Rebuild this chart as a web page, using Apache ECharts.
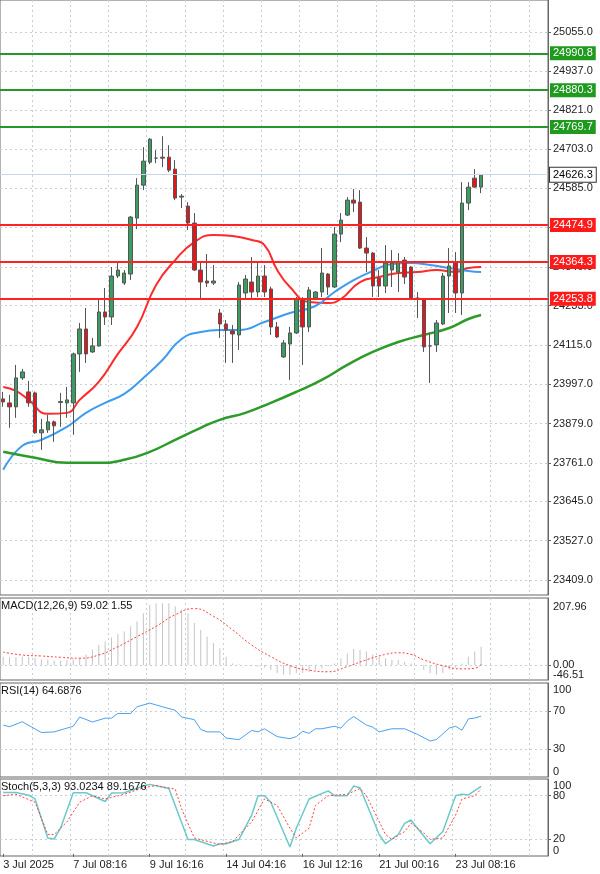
<!DOCTYPE html>
<html>
<head>
<meta charset="utf-8">
<script src="https://cdn.jsdelivr.net/npm/echarts@6/dist/echarts.min.js"></script>
<style>html,body{margin:0;padding:0;background:#fff}#chart{width:600px;height:874px}</style>
</head>
<body>
<div id="chart"></div>
<script>
// K线数据 [开, 收, 低, 高]
const candles = [
  [23953,23944,23929,23974],[23941,23929,23866,23965],[23929,24016,23896,24055],[24016,24034,24010,24043],
  [23974,23941,23929,24007],[23971,23851,23848,23975],[23851,23860,23800,23893],[23860,23884,23851,23905],
  [23884,23872,23824,23888],[23942,23945,23869,23971],[23941,23950,23896,23989],[23941,24088,23845,24092],
  [24088,24163,24034,24181],[24163,24088,24061,24226],[24094,24112,24091,24136],[24112,24214,24110,24250],
  [24214,24199,24175,24286],[24199,24322,24175,24349],[24322,24340,24316,24364],[24301,24331,24295,24340],
  [24328,24499,24310,24502],[24496,24595,24463,24616],[24595,24667,24580,24709],[24664,24733,24658,24736],
  [24676,24676,24661,24700],[24679,24676,24649,24742],[24679,24640,24634,24715],[24643,24556,24550,24670],
  [24559,24562,24526,24568],[24532,24481,24460,24544],[24481,24340,24337,24511],[24340,24304,24256,24364],
  [24307,24301,24289,24388],[24301,24307,24295,24355],[24211,24178,24136,24223],[24178,24160,24061,24190],
  [24157,24148,24061,24175],[24145,24295,24100,24304],[24271,24313,24256,24325],[24304,24274,24256,24379],
  [24274,24322,24259,24361],[24322,24274,24259,24355],[24283,24169,24145,24290],[24169,24139,24136,24184],
  [24079,24121,24076,24130],[24118,24151,24010,24169],[24151,24253,24148,24259],[24253,24169,24055,24259],
  [24169,24280,24154,24289],[24256,24274,24250,24277],[24274,24331,24259,24406],[24328,24289,24265,24331],
  [24289,24448,24286,24469],[24448,24490,24424,24511],[24505,24550,24502,24559],[24550,24541,24514,24583],
  [24544,24406,24403,24580],[24406,24391,24334,24439],[24391,24292,24259,24394],[24316,24292,24259,24340],
  [24292,24361,24271,24415],[24340,24361,24289,24400],[24334,24364,24274,24391],[24370,24319,24298,24379],
  [24349,24256,24253,24352],[24256,24253,24196,24274],[24253,24109,24094,24256],[24112,24112,24001,24151],
  [24115,24181,24094,24190],[24178,24322,24175,24331],[24322,24352,24211,24406],[24361,24271,24211,24394],
  [24271,24541,24205,24604],[24541,24589,24520,24604],[24616,24589,24586,24643],[24589,24625,24571,24628]
];
const slotCount = 86;
const dateTicks = {0:'3 Jul 2025',11:'7 Jul 08:16',23:'9 Jul 16:16',35:'14 Jul 04:16',47:'16 Jul 12:16',59:'21 Jul 00:16',71:'23 Jul 08:16'};

// 均线 [索引, 值]
const maRed = [[0,23989],[2,23977],[4,23950],[7,23908],[10,23911],[12,23950],[15,24004],[18,24088],[21,24169],[24,24295],[27,24370],[30,24424],[33,24445],[36,24442],[39,24430],[41,24415],[43,24340],[45,24289],[48,24244],[51,24241],[53,24253],[56,24304],[59,24319],[62,24331],[65,24334],[68,24340],[71,24334],[73,24346],[75,24349]];
const maBlue = [[0,23740],[3,23812],[6,23830],[10,23869],[13,23911],[16,23941],[19,23968],[22,24016],[25,24070],[28,24133],[31,24154],[34,24160],[37,24160],[41,24184],[45,24211],[49,24232],[52,24274],[55,24310],[58,24337],[61,24358],[64,24361],[67,24355],[70,24346],[73,24337],[75,24334]];
const maGreen = [[0,23794],[5,23776],[10,23761],[15,23761],[19,23770],[23,23794],[27,23830],[31,23866],[34,23890],[38,23911],[42,23941],[46,23974],[50,24010],[54,24055],[58,24094],[62,24124],[66,24145],[70,24166],[73,24193],[75,24205]];

const resistLevels = [24990.8, 24880.3, 24769.7];
const supportLevels = [24474.9, 24364.3, 24253.8];
const lastPrice = 24626.3;
const priceTicks = [25055,24937,24821,24703,24585,24467,24349,24233,24115,23997,23879,23761,23645,23527,23409];

const macdHist = [26,24,24,26,25,22,18,16,14,13,15,18,21,33,47,62,73,85,96,104,120,135,161,187,192,192,192,182,172,161,130,109,88,68,52,26,5,2,0,-3,-5,-8,-15,-25,-30,-30,-25,-25,-22,-15,-10,-5,5,20,36,50,47,42,33,26,21,16,16,10,5,0,-15,-25,-30,-25,-15,-8,5,26,42,57];
const macdSignal = [[0,40],[3,31],[6,28],[9,24],[12,21],[15,31],[18,57],[21,88],[24,120],[27,156],[30,175],[33,151],[36,109],[39,62],[42,26],[45,-2],[48,-16],[51,-21],[54,-5],[57,16],[60,33],[62,38],[64,33],[66,16],[69,-2],[72,-12],[74,-10],[75,1.55]];
const macdTicks = [0];
const macdEdge = [-46.51, 207.96];

const rsiLine = [[0,55.2],[1,53.5],[3,58.8],[6,47.3],[8,48],[10,52],[11,54],[12,63.8],[14,58.5],[16,62.6],[17,62.6],[18,67.6],[20,67.6],[21,74.7],[23,78.6],[25,74.7],[27,71],[28,63.8],[30,61],[31,50.6],[32,48],[34,48],[35,41.4],[37,39.7],[39,49.5],[40,48],[41,51.3],[43,43],[45,40.7],[46,43],[47,48.7],[48,46.4],[49,51.3],[50,51.3],[52,54],[53,52],[54,59.5],[55,64.4],[57,55.3],[58,53],[59,48],[61,51.3],[63,51.3],[65,45.4],[67,38.3],[68,39.9],[70,52],[71,54],[72,49.7],[73,61.8],[74,62.7],[75,64.7]];
const rsiTicks = [30, 70];
const rsiEdge = [0, 100];

const stochK = [[0,84.4],[2,84.4],[4,80.7],[5,75.6],[7,21.8],[8,20.4],[9,35.3],[11,84],[13,84],[16,72],[17,83.6],[19,84],[22,93.3],[23,95.6],[26,89.9],[29,19.8],[30,19.8],[33,10.7],[34,13.9],[35,13.9],[37,19.8],[39,53.3],[40,80],[41,80],[42,71.1],[45,9.3],[46,35.3],[48,75.5],[51,86.7],[52,80],[54,80],[55,93.3],[56,91],[59,26.6],[60,13.9],[62,26.6],[63,42],[64,46.6],[65,35.3],[67,13.9],[69,30.7],[71,80],[72,82],[73,81],[75,93.0]];
const stochD = [[0,80],[2,82],[5,71],[7,26.6],[8,26.6],[10,44],[12,71],[14,80],[16,75.5],[19,82],[22,91],[24,94],[27,89],[28,62],[30,21.8],[33,15],[34,12.6],[36,17],[39,44],[41,75.5],[43,66.6],[45,35.3],[46,21.8],[48,35.3],[49,66.6],[51,80],[54,82],[56,89.9],[57,80],[60,26.6],[61,19.8],[63,30.7],[64,42],[66,28.8],[67,19.8],[69,21.8],[71,53.3],[72,75.5],[74,80],[75,89.2]];
const stochTicks = [20, 80];
const stochEdge = [0, 100];

const categories = [];
for (let i = 0; i < slotCount; i++) categories.push(dateTicks[i] || String(i));

const font = 'Liberation Sans';
const dash = {color: '#c5cede', type: [2, 3], width: 1};
const grids = [
    {left: 0, right: 52, top: 0, height: 595},
    {left: 0, right: 52, top: 598, height: 82},
    {left: 0, right: 52, top: 683, height: 94},
    {left: 0, right: 52, top: 779, height: 77}
].map(g => Object.assign(g, {show: true, borderColor: '#666', borderWidth: 1, containLabel: false}));

const xAxes = grids.map((g, k) => ({
    type: 'category', gridIndex: k, data: categories, boundaryGap: true,
    axisLine: {show: false}, axisTick: {show: k === 3, interval: i => i in dateTicks, alignWithLabel: true, length: 3, lineStyle: {color: '#666'}},
    axisLabel: {show: k === 3, interval: i => i in dateTicks, formatter: v => dateTicks[categories.indexOf(v)] || '', align: 'left', margin: 3, fontSize: 11, color: '#222', fontFamily: font},
    splitLine: {show: true, interval: i => i % 6 === 5, lineStyle: dash}
}));

const yAx = (k, min, max, ticks, fmt) => ({
    type: 'value', gridIndex: k, position: 'right', offset: 0, min: min, max: max, scale: true,
    axisLine: {show: true, lineStyle: {color: '#666'}},
    axisTick: {show: true, customValues: ticks, length: 3, lineStyle: {color: '#666'}},
    axisLabel: {customValues: ticks, formatter: fmt, fontSize: 11, color: '#222', fontFamily: font, margin: 5},
    splitLine: {show: true, lineStyle: dash}
});

// 面板上下边缘的刻度标签, 往里挪一点
const edgeAx = (k, min, max, ticks, fmt, downPad, upPad) => ({
    type: 'value', gridIndex: k, position: 'right', offset: 0, min: min, max: max, scale: true,
    axisLine: {show: false}, axisTick: {show: false}, splitLine: {show: false},
    axisLabel: {
        customValues: ticks, fontSize: 11, color: '#222', fontFamily: font, margin: 5,
        formatter: v => (v === max || v > (min + max) / 2 ? '{dn|' : '{up|') + fmt(v) + '}',
        rich: {
            dn: {padding: [downPad, 0, 0, 0], fontSize: 11, color: '#222', fontFamily: font},
            up: {padding: [0, 0, upPad, 0], fontSize: 11, color: '#222', fontFamily: font}
        }
    }
});

const levelLine = (v, bg, lineColor, width, textColor) => ({
    yAxis: v,
    lineStyle: {color: lineColor, width: width, type: 'solid'},
    label: {show: true, position: 'end', distance: 2, formatter: v.toFixed(1), backgroundColor: bg, color: textColor, padding: [2, 3, 1, 3], fontSize: 11, fontFamily: font, borderColor: '#333', borderWidth: bg === '#fff' ? 1 : 0}
});

const lineSeries = (name, data, xi, color, width, type, smooth) => ({
    name: name, type: 'line', xAxisIndex: xi, yAxisIndex: xi, data: data, showSymbol: false, smooth: smooth,
    lineStyle: {color: color, width: width, type: type}, silent: true, z: 3
});

const f2 = v => v.toFixed(2), f0 = v => String(Math.round(v));

let option = {
    animation: false,
    backgroundColor: '#fff',
    title: [
        {text: 'MACD(12,26,9) 59.02 1.55', left: 1, top: 600},
        {text: 'RSI(14) 64.6876', left: 1, top: 685},
        {text: 'Stoch(5,3,3) 93.0234 89.1676', left: 1, top: 781}
    ].map(t => Object.assign(t, {padding: 0, textStyle: {fontSize: 11, fontWeight: 'normal', color: '#111', fontFamily: font}})),
    grid: grids,
    xAxis: xAxes,
    yAxis: [
        yAx(0, 23364, 25151, priceTicks, v => v.toFixed(1)),
        yAx(1, -46.51, 207.96, macdTicks, f2),
        yAx(2, 0, 100, rsiTicks, f0),
        yAx(3, -3, 103, stochTicks, f0),
        edgeAx(1, -46.51, 207.96, macdEdge, f2, 18, 10),
        edgeAx(2, 0, 100, rsiEdge, f0, 14, 10),
        edgeAx(3, -3, 103, stochEdge, f0, 10, 6)
    ],
    series: [
        {
            type: 'candlestick', xAxisIndex: 0, yAxisIndex: 0, data: candles, barWidth: '62%',
            itemStyle: {color: '#3a9d62', color0: '#e8141a', borderColor: '#555', borderColor0: '#555', borderWidth: 1},
            markLine: {
                symbol: 'none', silent: true, animation: false,
                data: resistLevels.map(v => levelLine(v, '#1f9a1f', '#22992a', 2, '#fff'))
                    .concat(supportLevels.map(v => levelLine(v, '#ff1a1a', '#ff2222', 2, '#fff')))
                    .concat([levelLine(lastPrice, '#fff', '#c9d5e8', 1, '#000')])
            },
            z: 4
        },
        lineSeries('MA red', maRed, 0, '#ff2a2a', 2, 'solid', true),
        lineSeries('MA blue', maBlue, 0, '#3d9bf0', 2, 'solid', true),
        lineSeries('MA green', maGreen, 0, '#2e9a2a', 2.5, 'solid', true),
        {type: 'bar', xAxisIndex: 1, yAxisIndex: 1, data: macdHist, barWidth: 1, itemStyle: {color: '#c4c4c4'}, silent: true},
        lineSeries('Signal', macdSignal, 1, '#ff4040', 1, [2, 2], true),
        lineSeries('RSI', rsiLine, 2, '#4aa0f0', 1, 'solid', false),
        lineSeries('%K', stochK, 3, '#6cc9c9', 1.5, 'solid', false),
        lineSeries('%D', stochD, 3, '#ff4040', 1, [2, 2], false)
    ]
};

let myChart = echarts.init(document.getElementById('chart'));
myChart.setOption(option);
</script>
</body>
</html>
